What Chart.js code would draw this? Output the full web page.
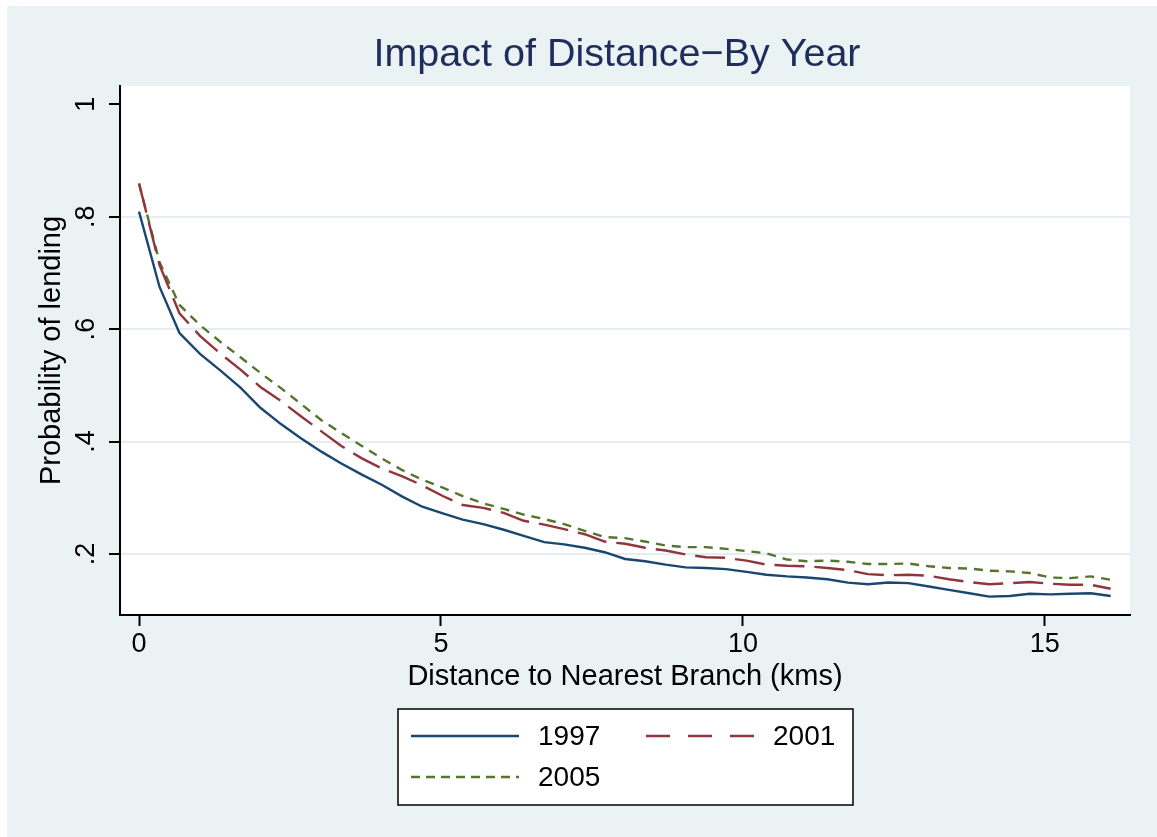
<!DOCTYPE html>
<html>
<head>
<meta charset="utf-8">
<script src="https://cdn.jsdelivr.net/npm/chart.js@4.4.1/dist/chart.umd.min.js"></script>
<style>
  html, body { margin: 0; padding: 0; background: #fff; }
  #wrap { width: 1157px; height: 837px; }
</style>
</head>
<body>
<div id="wrap"><canvas id="chart" width="1157" height="837"></canvas></div>
<script>
// distance to nearest branch (kms)
const distance = [0, 0.34, 0.67, 1.01, 1.34, 1.68, 2.01, 2.35, 2.68, 3.02, 3.35, 3.69, 4.02, 4.36, 4.69,
    5.03, 5.36, 5.70, 6.04, 6.37, 6.71, 7.04, 7.38, 7.71, 8.05, 8.38, 8.72, 9.05, 9.39, 9.72,
    10.06, 10.39, 10.73, 11.06, 11.40, 11.74, 12.07, 12.41, 12.74, 13.08, 13.41, 13.75, 14.08,
    14.42, 14.75, 15.09, 15.42, 15.76, 16.09];

// probability of lending by year
const y1997 = [0.809, 0.675, 0.593, 0.556, 0.527, 0.496, 0.460, 0.431, 0.406, 0.382, 0.361, 0.341,
    0.323, 0.302, 0.284, 0.272, 0.261, 0.253, 0.243, 0.232, 0.221, 0.217, 0.211, 0.203, 0.191,
    0.187, 0.181, 0.176, 0.175, 0.173, 0.168, 0.163, 0.160, 0.158, 0.155, 0.149, 0.146, 0.149,
    0.148, 0.142, 0.136, 0.130, 0.124, 0.125, 0.129, 0.128, 0.129, 0.130, 0.125];
const y2001 = [0.859, 0.714, 0.628, 0.588, 0.557, 0.528, 0.497, 0.472, 0.445, 0.418, 0.392, 0.370,
    0.352, 0.338, 0.322, 0.303, 0.287, 0.282, 0.273, 0.259, 0.252, 0.244, 0.235, 0.222, 0.218,
    0.211, 0.206, 0.199, 0.194, 0.193, 0.188, 0.181, 0.179, 0.178, 0.175, 0.171, 0.164, 0.162,
    0.163, 0.161, 0.155, 0.150, 0.146, 0.148, 0.150, 0.147, 0.145, 0.145, 0.138];
const y2005 = [0.859, 0.719, 0.643, 0.607, 0.578, 0.550, 0.522, 0.495, 0.467, 0.438, 0.415, 0.392,
    0.370, 0.349, 0.332, 0.318, 0.303, 0.290, 0.280, 0.270, 0.262, 0.253, 0.241, 0.230, 0.228,
    0.222, 0.215, 0.212, 0.212, 0.209, 0.205, 0.201, 0.190, 0.187, 0.188, 0.186, 0.182, 0.182,
    0.183, 0.178, 0.175, 0.174, 0.170, 0.169, 0.166, 0.158, 0.157, 0.160, 0.154];

const seriesNames = ['1997', '2001', '2005'];
const xTicks = [0, 5, 10, 15];
const yTicks = [0.2, 0.4, 0.6, 0.8, 1];
const yTickLabels = ['.2', '.4', '.6', '.8', '1'];

const FONT = '"Liberation Sans", Arial, Helvetica, sans-serif';
const BG = '#EAF2F3';

function points(ys) {
    return distance.map((d, i) => ({x: d, y: ys[i]}));
}

// stata-ish backgrounds: outer region + white plot region
const backdrop = {
    id: 'backdrop',
    beforeDraw(chart) {
        const {ctx, chartArea: a, width, height} = chart;
        ctx.save();
        ctx.fillStyle = '#fff';
        ctx.fillRect(0, 0, width, height);
        ctx.fillStyle = BG;
        ctx.fillRect(7, 6, width - 7, height - 6);
        ctx.fillStyle = '#fff';
        ctx.fillRect(a.left, a.top, a.right - a.left, a.bottom - a.top);
        ctx.restore();
    }
};

const titleText = {
    id: 'titleText',
    afterDraw(chart) {
        const {ctx} = chart;
        ctx.save();
        ctx.font = '39.5px ' + FONT;
        ctx.fillStyle = '#1e2d5c';
        ctx.textAlign = 'center';
        ctx.textBaseline = 'middle';
        ctx.fillText('Impact of Distance\u2212By Year', 617, 55);
        ctx.restore();
    }
};

// boxed legend, two columns
const boxLegend = {
    id: 'boxLegend',
    afterDraw(chart) {
        const {ctx} = chart;
        const box = {x: 398, y: 709, w: 455, h: 96};
        ctx.save();
        ctx.fillStyle = '#fff';
        ctx.fillRect(box.x, box.y, box.w, box.h);
        ctx.strokeStyle = '#000';
        ctx.lineWidth = 1.5;
        ctx.strokeRect(box.x, box.y, box.w, box.h);

        const slots = [[411, 736], [646, 736], [411, 777]];
        chart.data.datasets.forEach((ds, i) => {
            const [sx, sy] = slots[i];
            ctx.beginPath();
            ctx.setLineDash(ds.legendDash || []);
            ctx.strokeStyle = ds.borderColor;
            ctx.lineWidth = ds.borderWidth;
            ctx.moveTo(sx, sy);
            ctx.lineTo(sx + 108, sy);
            ctx.stroke();
            ctx.setLineDash([]);
            ctx.fillStyle = '#000';
            ctx.font = '28px ' + FONT;
            ctx.textAlign = 'left';
            ctx.textBaseline = 'middle';
            ctx.fillText(ds.label, sx + 127, sy + 1);
        });
        ctx.restore();
    }
};

const chart = new Chart(document.getElementById('chart'), {
    type: 'line',
    data: {
        datasets: [{
            label: seriesNames[0],
            data: points(y1997),
            borderColor: '#1A476F',
            borderWidth: 2.4,
            borderDash: [],
            legendDash: []
        }, {
            label: seriesNames[1],
            data: points(y2001),
            borderColor: '#90353B',
            borderWidth: 2.4,
            borderDash: [30, 10],
            legendDash: [24, 18]
        }, {
            label: seriesNames[2],
            data: points(y2005),
            borderColor: '#55752F',
            borderWidth: 2.4,
            borderDash: [9, 7],
            legendDash: [9, 6]
        }]
    },
    options: {
        responsive: false,
        animation: false,
        layout: {padding: {left: 7, top: 86, right: 27, bottom: 0}},
        elements: {
            point: {radius: 0},
            line: {tension: 0, fill: false}
        },
        plugins: {
            legend: {display: false},
            title: {display: false},
            tooltip: {enabled: false}
        },
        scales: {
            x: {
                type: 'linear',
                min: -0.315,
                max: 16.41,
                afterBuildTicks: scale => { scale.ticks = xTicks.map(v => ({value: v})); },
                afterFit: scale => { scale.height = 222; },
                border: {display: true, color: '#000', width: 2},
                grid: {drawOnChartArea: false, drawTicks: true, tickLength: 11, tickColor: '#000', tickWidth: 2},
                ticks: {
                    font: {family: FONT, size: 27},
                    color: '#000',
                    padding: 2,
                    maxRotation: 0,
                    callback: v => String(v)
                },
                title: {
                    display: true,
                    text: 'Distance to Nearest Branch (kms)',
                    font: {family: FONT, size: 29},
                    color: '#000',
                    padding: {top: 0, bottom: 143}
                }
            },
            y: {
                type: 'linear',
                min: 0.0913,
                max: 1.0326,
                afterBuildTicks: scale => { scale.ticks = yTicks.map(v => ({value: v})); },
                afterFit: scale => { scale.width = 113; },
                border: {display: true, color: '#000', width: 2},
                grid: {
                    color: ctx => (ctx.tick && ctx.tick.value === 1) ? 'rgba(0,0,0,0)' : '#E4EDEF',
                    lineWidth: 2,
                    drawTicks: true,
                    tickLength: 11,
                    tickColor: '#000',
                    tickWidth: 2
                },
                ticks: {
                    font: {family: FONT, size: 27},
                    color: '#000',
                    padding: 11,
                    minRotation: 90,
                    maxRotation: 90,
                    crossAlign: 'center',
                    callback: v => yTickLabels[yTicks.indexOf(v)]
                },
                title: {
                    display: true,
                    text: 'Probability of lending',
                    font: {family: FONT, size: 29},
                    color: '#000',
                    padding: {top: 28, bottom: 0}
                }
            }
        }
    },
    plugins: [backdrop, titleText, boxLegend]
});
</script>
</body>
</html>
